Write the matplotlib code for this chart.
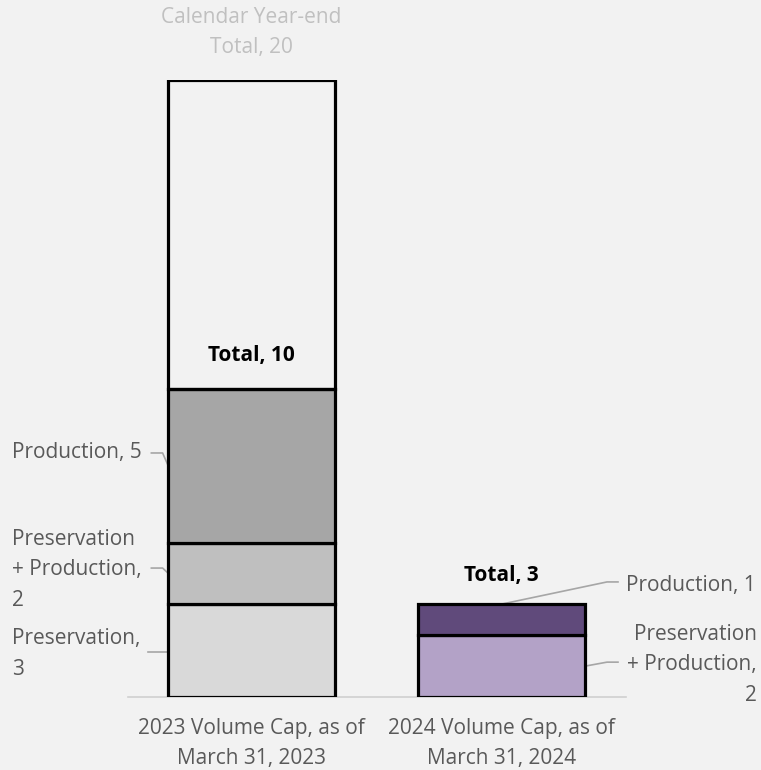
import matplotlib.pyplot as plt
import numpy as np

plt.rcParams['font.family'] = ['Open Sans', 'DejaVu Sans']

# 데이터
categories = ['2023 Volume Cap, as of\nMarch 31, 2023', '2024 Volume Cap, as of\nMarch 31, 2024']
preservation = [3, 0]
pres_prod = [2, 2]
production = [5, 1]
totals = [10, 3]
year_end_total = 20

bg = '#f2f2f2'
fig = plt.figure(figsize=(7.61, 7.70), dpi=100, facecolor=bg)
ax = fig.add_axes([0.168, 0.0948, 0.6546, 0.8013])
ax.set_facecolor(bg)

x = np.arange(len(categories))
w = 0.668
lw = 2.3
fs = 15
ls = 1.6

c_pres = ['#d9d9d9', '#d9d9d9']
c_pp = ['#bfbfbf', '#b3a2c7']
c_prod = ['#a6a6a6', '#604a7b']

bottom = np.zeros(2)
for vals, cols in [(preservation, c_pres), (pres_prod, c_pp), (production, c_prod)]:
    vals = np.array(vals, dtype=float)
    for i in range(2):
        if vals[i] > 0:
            ax.bar(x[i], vals[i], w, bottom=bottom[i], color=cols[i],
                   edgecolor='black', linewidth=lw, zorder=3)
    bottom += vals

# 연말 총계 박스 (빈 상자)
ax.bar(x[0], year_end_total - totals[0], w, bottom=totals[0], facecolor='none',
       edgecolor='black', linewidth=lw, zorder=3)

ax.set_xlim(-0.494, 1.498)
ax.set_ylim(0, 20)
ax.set_yticks([])
ax.set_xticks(x)
ax.set_xticklabels(categories, fontsize=fs, color='#595959', linespacing=ls)
ax.tick_params(axis='x', length=0, pad=15)
for s in ['top', 'right', 'left']:
    ax.spines[s].set_visible(False)
ax.spines['bottom'].set_color('#d0d0d0')
ax.spines['bottom'].set_linewidth(1.2)

# 총계 라벨
ax.text(x[0], 21.54, 'Calendar Year-end\nTotal, ' + str(year_end_total), ha='center',
        va='center', fontsize=fs, color='#c0c0c0', linespacing=ls, clip_on=False)
ax.text(x[0], totals[0] + 1.08, 'Total, ' + str(totals[0]), ha='center', va='center',
        fontsize=fs, fontweight='bold', color='black')
ax.text(x[1], totals[1] + 0.95, 'Total, ' + str(totals[1]), ha='center', va='center',
        fontsize=fs, fontweight='bold', color='black')

lc = '#a6a6a6'
tc = '#595959'
left = x[0] - w / 2

# 왼쪽 라벨
ax.text(-0.958, 7.91, 'Production, ' + str(production[0]), ha='left', va='center',
        fontsize=fs, color=tc)
ax.plot([-0.40, -0.355, left], [7.91, 7.91, 7.52], color=lc, lw=1.2, clip_on=False)

ax.text(-0.958, 4.12, 'Preservation\n+ Production,\n' + str(pres_prod[0]), ha='left',
        va='center', fontsize=fs, color=tc, linespacing=ls)
ax.plot([-0.40, -0.355, left], [4.18, 4.18, 4.02], color=lc, lw=1.2, clip_on=False)

ax.text(-0.958, 1.39, 'Preservation,\n' + str(preservation[0]), ha='left', va='center',
        fontsize=fs, color=tc, linespacing=ls)
ax.plot([-0.414, left], [1.46, 1.46], color=lc, lw=1.2, clip_on=False)

# 오른쪽 라벨
right = x[1] + w / 2
ax.text(1.498, 3.6, 'Production, ' + str(production[1]), ha='left', va='center',
        fontsize=fs, color=tc, clip_on=False)
ax.plot([1.466, 1.422, x[1]], [3.73, 3.73, 3.01], color=lc, lw=1.2, clip_on=False)

ax.text(2.022, 1.04, 'Preservation\n+ Production,\n' + str(pres_prod[1]), ha='right',
        va='center', fontsize=fs, color=tc, linespacing=ls, clip_on=False)
ax.plot([1.466, 1.422, right], [1.13, 1.13, 1.0], color=lc, lw=1.2, clip_on=False)

fig.savefig('out.png', dpi=100, facecolor=bg)
